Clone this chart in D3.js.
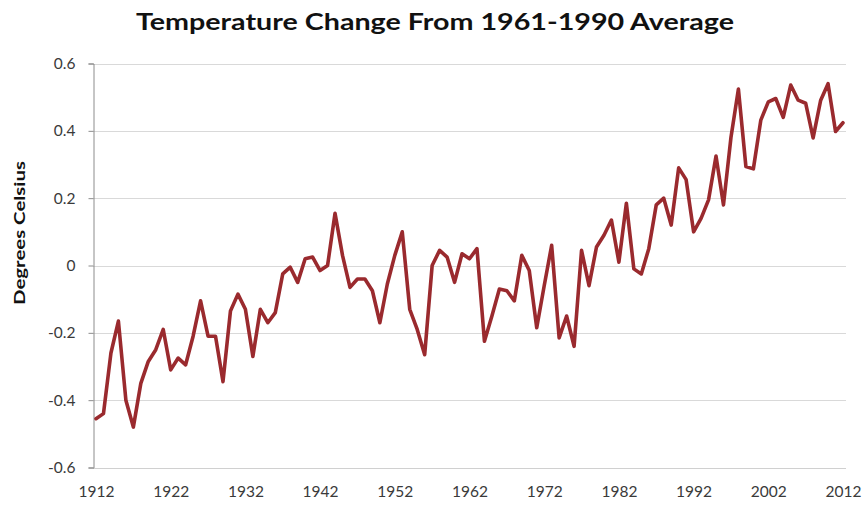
<!DOCTYPE html>
<html>
<head>
<meta charset="utf-8">
<script src="https://cdn.jsdelivr.net/npm/d3@7"></script>
<style>
  body { margin: 0; background: #fff; }
  svg { display: block; }
</style>
</head>
<body>
<svg id="chart" width="864" height="505"></svg>
<script>
const years = d3.range(1912, 2013);
const anomalies = [
  -0.455, -0.44, -0.26, -0.165, -0.40, -0.48, -0.35, -0.285, -0.25, -0.19,
  -0.31, -0.275, -0.295, -0.21, -0.105, -0.21, -0.21, -0.345, -0.135, -0.085,
  -0.13, -0.27, -0.13, -0.17, -0.14, -0.025, -0.005, -0.05, 0.02, 0.025,
  -0.015, 0.0, 0.155, 0.03, -0.065, -0.04, -0.04, -0.075, -0.17, -0.055,
  0.03, 0.10, -0.13, -0.19, -0.265, 0.0, 0.045, 0.025, -0.05, 0.035,
  0.02, 0.05, -0.225, -0.15, -0.07, -0.075, -0.105, 0.03, -0.015, -0.185,
  -0.06, 0.06, -0.215, -0.15, -0.24, 0.045, -0.06, 0.055, 0.09, 0.135,
  0.01, 0.185, -0.01, -0.025, 0.05, 0.18, 0.2, 0.12, 0.29, 0.255,
  0.10, 0.14, 0.195, 0.325, 0.18, 0.38, 0.524, 0.294, 0.287, 0.432,
  0.486, 0.496, 0.44, 0.536, 0.491, 0.482, 0.379, 0.49, 0.54, 0.398,
  0.424
];
const yTicks = [-0.6, -0.4, -0.2, 0, 0.2, 0.4, 0.6];
const xTicks = [1912, 1922, 1932, 1942, 1952, 1962, 1972, 1982, 1992, 2002, 2012];
const title = "Temperature Change From 1961-1990 Average";
const yLabel = "Degrees Celsius";

const data = years.map((y, i) => ({ year: y, value: anomalies[i] }));

const svg = d3.select("#chart");
const plotLeft = 93, plotRight = 846, plotTop = 63.5, plotBottom = 467.5;
const tickFont = "Lato, 'Open Sans', sans-serif";

const x = d3.scaleLinear().domain([1912, 2012]).range([96, 843]);
const y = d3.scaleLinear().domain([-0.6, 0.6]).range([plotBottom, plotTop]);

// gridlines
svg.append("g")
  .selectAll("line")
  .data(yTicks.filter(t => t > -0.6))
  .join("line")
  .attr("x1", plotLeft).attr("x2", plotRight)
  .attr("y1", d => Math.round(y(d)) + 0.5).attr("y2", d => Math.round(y(d)) + 0.5)
  .attr("stroke", "#d9d9d9").attr("stroke-width", 1);

// x axis line (at -0.6)
const xAxis = d3.axisBottom(x).tickValues(xTicks).tickFormat(d3.format("d")).tickSize(0).tickPadding(17);
const gx = svg.append("g").attr("transform", `translate(0,${Math.round(y(-0.6)) + 0.5})`).call(xAxis);
gx.select(".domain").attr("d", `M${plotLeft},0H${plotRight}`).attr("stroke", "#d0d0d0");
gx.selectAll("text").attr("font-family", tickFont).attr("font-size", 15.5).attr("fill", "#3a3a3a");

// y axis
const fmt = d => d === 0 ? "0" : d3.format(".1f")(d).replace("\u2212", "-");
const yAxis = d3.axisLeft(y).tickValues(yTicks).tickFormat(fmt).tickSize(5).tickPadding(13);
const gy = svg.append("g").attr("transform", `translate(${plotLeft + 0.5},0)`).call(yAxis);
gy.select(".domain").attr("stroke", "#8c8c8c");
gy.selectAll(".tick line").attr("stroke", "#8c8c8c");
gy.selectAll("text").attr("font-family", tickFont).attr("font-size", 15.5).attr("fill", "#3a3a3a");

// line
const line = d3.line().x(d => x(d.year)).y(d => y(d.value)).curve(d3.curveLinear);
svg.append("path")
  .datum(data)
  .attr("d", line)
  .attr("fill", "none")
  .attr("stroke", "#9a2a2e")
  .attr("stroke-width", 3.6)
  .attr("stroke-linejoin", "round")
  .attr("stroke-linecap", "round");

// title
svg.append("text")
  .attr("x", 435).attr("y", 30)
  .attr("text-anchor", "middle")
  .attr("font-family", "Lato, 'Open Sans', sans-serif")
  .attr("font-weight", "bold")
  .attr("font-size", 23)
  .attr("fill", "#111")
  .attr("textLength", 598)
  .attr("lengthAdjust", "spacingAndGlyphs")
  .text(title);

// y label
svg.append("text")
  .attr("transform", "translate(25,233) rotate(-90)")
  .attr("text-anchor", "middle")
  .attr("font-family", "Lato, 'Open Sans', sans-serif")
  .attr("font-weight", "bold")
  .attr("font-size", 16)
  .attr("fill", "#111")
  .attr("textLength", 144)
  .attr("lengthAdjust", "spacingAndGlyphs")
  .text(yLabel);
</script>
</body>
</html>
